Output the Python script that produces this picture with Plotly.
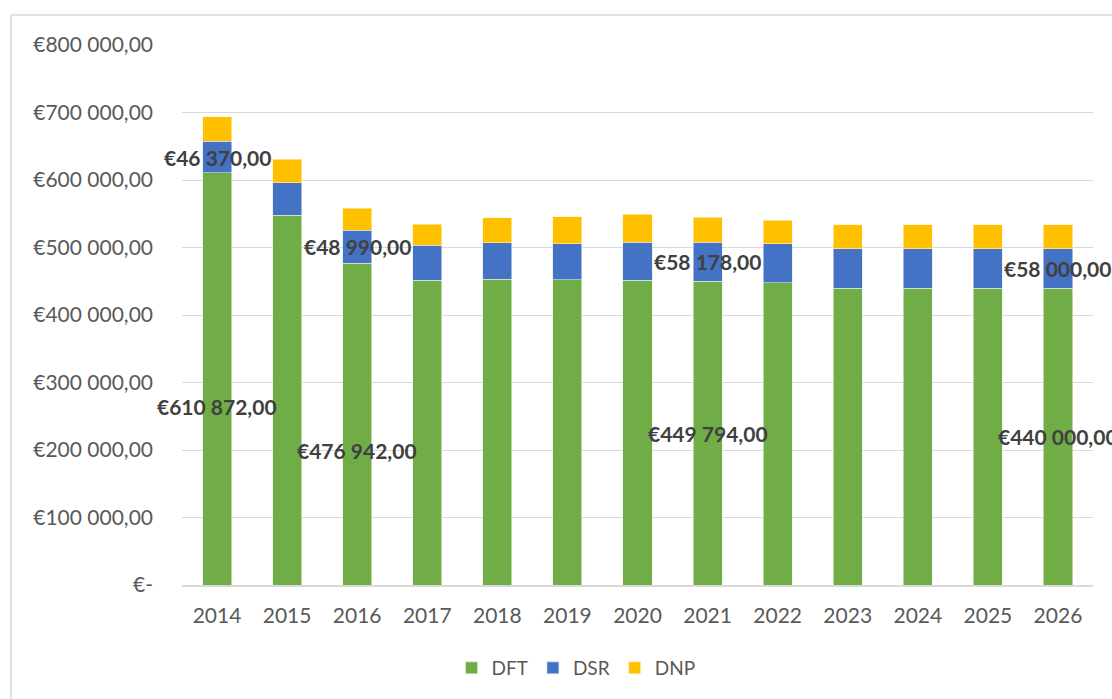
import plotly.graph_objects as go

years = ["2014", "2015", "2016", "2017", "2018", "2019", "2020",
         "2021", "2022", "2023", "2024", "2025", "2026"]
dft = [610872, 548100, 476942, 451300, 452900, 451900, 451400,
       449794, 447900, 440000, 440000, 440000, 440000]
dsr = [46370, 47900, 48990, 52400, 54200, 53700, 56300,
       58178, 57300, 58000, 58000, 58000, 58000]
dnp = [36500, 34700, 32200, 31100, 37000, 40000, 41900,
       37200, 35500, 35800, 35800, 35800, 35800]
labeled_years = ["2014", "2016", "2021", "2026"]
y_ticks = [0, 100000, 200000, 300000, 400000, 500000, 600000, 700000, 800000]


def eur(v):
    if v == 0:
        return "€-"
    s = f"{v:,.2f}"  # 610,872.00
    ip, dp = s.split(".")
    return "€" + ip.replace(",", " ") + "," + dp


FONT = "Lato"
GREY = "#595959"
fig = go.Figure()
fig.add_trace(go.Bar(x=years, y=dft, name="DFT", marker_color="#70ad47",
                     marker_line=dict(color="#e8f0e0", width=0.6)))
fig.add_trace(go.Bar(x=years, y=dsr, name="DSR", marker_color="#4472c4",
                     marker_line=dict(color="#dfe6f4", width=0.6)))
fig.add_trace(go.Bar(x=years, y=dnp, name="DNP", marker_color="#ffc000",
                     marker_line=dict(color="#fff2cc", width=0.6)))

# manual downward offsets (px) for DFT labels that were moved in the original
dft_shift = {"2014": -28, "2016": -26}
annotations = []
for i, yr in enumerate(years):
    if yr in labeled_years:
        # x given as the category index on the category axis
        annotations.append(dict(x=i, y=dft[i] / 2, text=eur(dft[i]), showarrow=False,
                                yshift=dft_shift.get(yr, 0),
                                font=dict(family=FONT, size=21, color="#404040", weight="bold")))
        annotations.append(dict(x=i, y=dft[i] + dsr[i] / 2, text=eur(dsr[i]), showarrow=False,
                                font=dict(family=FONT, size=21, color="#404040", weight="bold")))

W, H = 1112, 699
L, T = 182, 45
PR, PB = 1093, 585
R, B = W - PR, H - PB
pw, ph = PR - L, PB - T


def px_x(p):
    return (p - L) / pw


def px_y(p):
    return (PB - p) / ph


fig.update_layout(
    width=W, height=H,
    margin=dict(l=L, r=R, t=T, b=B, autoexpand=False),
    barmode="stack", bargap=0.585,
    plot_bgcolor="white", paper_bgcolor="white",
    font=dict(family=FONT, size=21, color=GREY),
    annotations=annotations,
    legend=dict(orientation="h", x=px_x(576), xanchor="center", y=px_y(668), yanchor="middle",
                font=dict(family=FONT, size=19, color=GREY), itemwidth=30,
                traceorder="normal"),
    shapes=[
        dict(type="line", xref="paper", yref="paper",
             x0=px_x(11), x1=px_x(11), y0=px_y(15), y1=px_y(H + 5),
             line=dict(color="#d9d9d9", width=1.5), layer="below"),
        dict(type="line", xref="paper", yref="paper",
             x0=px_x(11), x1=px_x(W + 5), y0=px_y(15), y1=px_y(15),
             line=dict(color="#d9d9d9", width=1.5), layer="below"),
    ],
    showlegend=True,
)
fig.update_yaxes(range=[0, 800000], tickvals=y_ticks, ticktext=[eur(v) for v in y_ticks],
                 showgrid=True, gridcolor="#d9d9d9", gridwidth=1, zeroline=False,
                 showline=False, ticks="", ticklabelstandoff=28,
                 tickfont=dict(family=FONT, size=21, color=GREY))
fig.update_xaxes(type="category", range=[-0.5, len(years) - 0.5],
                 showline=True, linecolor="#d9d9d9", linewidth=1.5, ticks="",
                 ticklabelstandoff=11,
                 tickfont=dict(family=FONT, size=21, color=GREY))

fig.write_html("out.html", config={"displayModeBar": False},
               post_script="document.body.style.margin='0';document.body.style.overflow='hidden';")
